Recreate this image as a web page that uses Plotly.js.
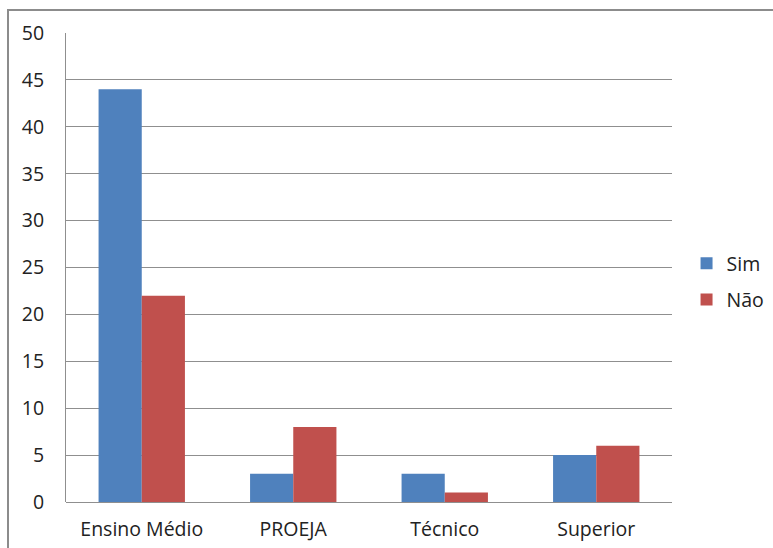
<!DOCTYPE html>
<html>
<head>
<meta charset="utf-8">
<script src="https://cdn.plot.ly/plotly-3.0.1.min.js"></script>
<style>
html,body{margin:0;padding:0;background:#fff;}
#frame{position:absolute;left:7px;top:9px;width:800px;height:600px;border-left:2px solid #8c8c8c;border-top:2px solid #8c8c8c;}
#chart{position:absolute;left:0;top:0;width:773px;height:548px;}
</style>
</head>
<body>
<div id="frame"></div>
<div id="chart"></div>
<script>
const categories = ["Ensino Médio", "PROEJA", "Técnico", "Superior"];
const simValues = [44, 3, 3, 5];
const naoValues = [22, 8, 1, 6];
const seriesNames = ["Sim", "Não"];
const yTicks = [0, 5, 10, 15, 20, 25, 30, 35, 40, 45, 50];

const font = {family: "Open Sans, sans-serif", size: 19.5, color: "#222222"};

const traces = [
  {type: "bar", name: seriesNames[0], x: categories, y: simValues, marker: {color: "#4F81BD"}, legendgroup: "a"},
  {type: "bar", name: seriesNames[1], x: categories, y: naoValues, marker: {color: "#C0504D"}, legendgroup: "b"}
];

const layout = {
  width: 773, height: 548,
  margin: {l: 66, r: 101, t: 33, b: 46, autoexpand: false},
  paper_bgcolor: "rgba(0,0,0,0)",
  plot_bgcolor: "rgba(0,0,0,0)",
  font: font,
  barmode: "group",
  bargap: 0.43,
  bargroupgap: 0,
  showlegend: true,
  legend: {x: 1.024, y: 0.47, yanchor: "middle", xanchor: "left", tracegroupgap: 8, font: font, bgcolor: "rgba(0,0,0,0)"},
  xaxis: {
    type: "category", showgrid: false, zeroline: false, showline: false,
    ticks: "", tickfont: font, ticklabelstandoff: 13, automargin: false
  },
  yaxis: {
    range: [0, 50], tickvals: yTicks, showgrid: true, gridcolor: "#8f8f8f", gridwidth: 1,
    zeroline: true, zerolinecolor: "#8f8f8f", zerolinewidth: 1,
    showline: true, linecolor: "#8f8f8f", linewidth: 1,
    ticks: "", tickfont: font, ticklabelstandoff: 17, automargin: false
  }
};

Plotly.newPlot("chart", traces, layout, {staticPlot: true, displayModeBar: false});
</script>
</body>
</html>
